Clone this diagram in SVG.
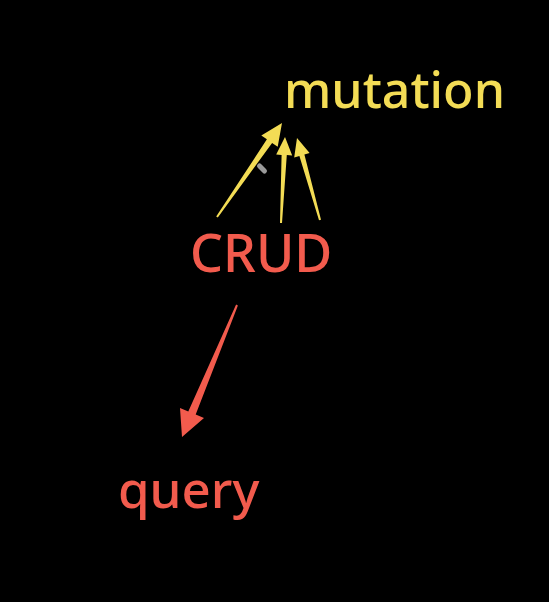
<svg xmlns="http://www.w3.org/2000/svg" width="549" height="602" viewBox="0 0 549 602">
<style>
.lbl{font-family:"Noto Sans","Open Sans","DejaVu Sans",sans-serif;font-weight:500}
.y{fill:#f3dc55}
.r{fill:#f25b4d}
</style>
<rect width="549" height="602" fill="#000"/>
<g id="connectors">
<polygon class="y" points="217.8,217.6 272.1,142.9 277.7,146.8 282,123 261.3,135.4 266.9,139.3 216.2,216.4"/>
<polygon class="y" points="282,223 286.8,155.1 292.2,155.4 285,137 276.2,154.6 281.6,154.9 280,223"/>
<polygon class="y" points="321,219.7 304.4,154.6 309.6,153.1 297,138 294.2,157.5 299.4,156 319,220.3"/>
<polygon class="r" points="237.9,305.4 195.7,414.5 204,418 182,437 180,408 188.3,411.5 236.1,304.6"/>
<rect x="256" y="166" width="12" height="5" rx="2.5" fill="#9a9a9a" transform="rotate(45 262 168.5)"/>
</g>
<g id="mutation"><text class="lbl y" x="284" y="108" font-size="50">mutation</text></g>
<g id="crud"><text class="lbl r" x="190" y="272" font-size="52">CRUD</text></g>
<g id="query"><text class="lbl r" x="118" y="508" font-size="51">query</text></g>
</svg>
